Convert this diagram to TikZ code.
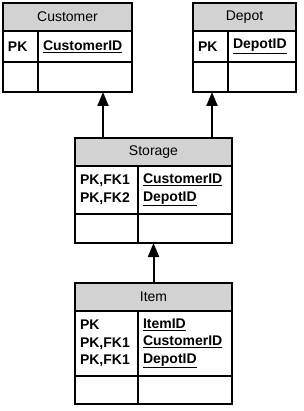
\documentclass[tikz,border=0pt]{standalone}
\usepackage{fontspec}
\setmainfont{Liberation Sans}
\usetikzlibrary{positioning,arrows.meta}

\begin{document}
\begin{tikzpicture}[x=1pt, y=1pt, node distance=0pt,
  every node/.style={font=\fontsize{14}{17.5}\selectfont},
  cell/.style={draw, line width=1.5pt, outer sep=0pt, inner xsep=5pt, inner ysep=0pt, align=left},
  hdr/.style={cell, fill=gray!35, align=center, minimum height=28pt},
  keyc/.style={font=\fontsize{14}{17.5}\selectfont\bfseries},
  arr/.style={-{Triangle[length=14pt, width=11pt]}, line width=2pt}]
\useasboundingbox (0,0) rectangle (303,-411);
% Customer
\node[hdr, minimum width=129pt, anchor=north west] (custH) at (3,-3) {Customer};
\node[cell, keyc, text width=25pt, minimum height=31pt, below right=0pt and 0pt of custH.south west] (custK) {PK};
\node[cell, keyc, text width=84pt, minimum height=31pt, right=of custK] (custF) {\underline{CustomerID}};
\node[cell, minimum width=35pt, minimum height=30pt, below right=0pt and 0pt of custK.south west] (custKe) {};
\node[cell, minimum width=94pt, minimum height=30pt, right=of custKe] (custFe) {};
% Depot
\node[hdr, minimum width=103pt, anchor=north west] (depH) at (193,-3) {Depot};
\node[cell, keyc, text width=25pt, minimum height=31pt, below right=0pt and 0pt of depH.south west] (depK) {PK};
\node[cell, keyc, text width=58pt, minimum height=31pt, right=of depK] (depF) {\underline{DepotID}};
\node[cell, minimum width=35pt, minimum height=30pt, below right=0pt and 0pt of depK.south west] (depKe) {};
\node[cell, minimum width=68pt, minimum height=30pt, right=of depKe] (depFe) {};
% Storage
\node[hdr, minimum width=157pt, anchor=north west] (storH) at (75,-138) {Storage};
\node[cell, keyc, text width=53pt, minimum height=48pt, below right=0pt and 0pt of storH.south west] (storK) {PK,FK1\\PK,FK2};
\node[cell, keyc, text width=84pt, minimum height=48pt, right=of storK] (storF) {\underline{CustomerID}\\\underline{DepotID}};
\node[cell, minimum width=63pt, minimum height=29pt, below right=0pt and 0pt of storK.south west] (storKe) {};
\node[cell, minimum width=94pt, minimum height=29pt, right=of storKe] (storFe) {};
% Item
\node[hdr, minimum width=157pt, anchor=north west] (itemH) at (75,-283) {Item};
\node[cell, keyc, text width=53pt, minimum height=65pt, below right=0pt and 0pt of itemH.south west] (itemK) {PK\\PK,FK1\\PK,FK1};
\node[cell, keyc, text width=84pt, minimum height=65pt, right=of itemK] (itemF) {\underline{ItemID}\\\underline{CustomerID}\\\underline{DepotID}};
\node[cell, minimum width=63pt, minimum height=28pt, below right=0pt and 0pt of itemK.south west] (itemKe) {};
\node[cell, minimum width=94pt, minimum height=28pt, right=of itemKe] (itemFe) {};
% relations
\draw[arr] ([xshift=28pt]storH.north west) -- ([xshift=-29pt]custFe.south east);
\draw[arr] ([xshift=-20pt]storH.north east) -- ([xshift=19pt]depKe.south west);
\draw[arr] (itemH.north) -- (itemH.north |- storFe.south);
\end{tikzpicture}
\end{document}
